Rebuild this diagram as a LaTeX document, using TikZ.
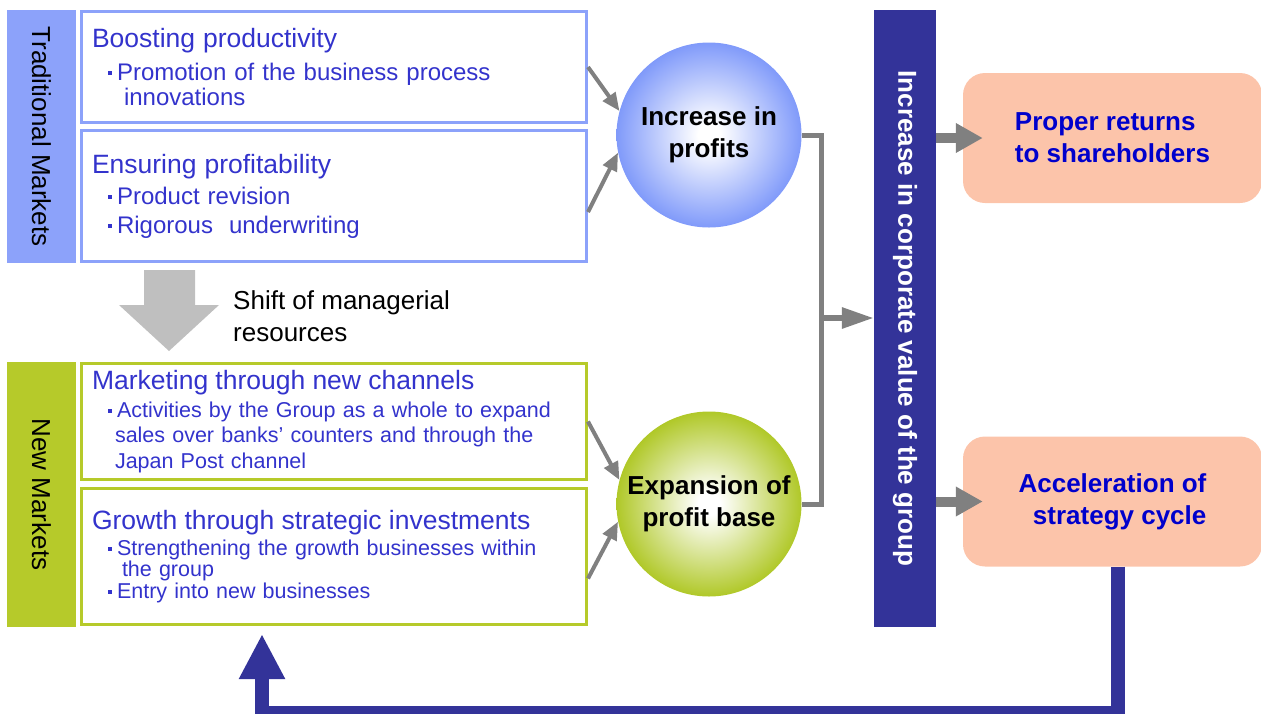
\documentclass[tikz,border=0pt]{standalone}
\usepackage{fontspec}
\setmainfont{Liberation Sans}
\usetikzlibrary{arrows.meta}
\definecolor{tmblue}{RGB}{140,162,250}
\definecolor{ballblue}{RGB}{128,154,250}
\definecolor{nmgreen}{RGB}{182,202,42}
\definecolor{ballgreen}{RGB}{176,200,40}
\definecolor{txtblue}{RGB}{51,51,204}
\definecolor{barblue}{RGB}{51,51,153}
\definecolor{peach}{RGB}{252,196,170}
\definecolor{retblue}{RGB}{0,0,204}
\definecolor{arrgray}{RGB}{128,128,128}
\definecolor{shiftgray}{RGB}{191,191,191}
\pgfdeclareradialshading{profitball}{\pgfpoint{0bp}{0bp}}{color(0bp)=(white); color(3bp)=(white); color(25bp)=(ballblue); color(50bp)=(ballblue)}
\pgfdeclareradialshading{baseball}{\pgfpoint{0bp}{0bp}}{color(0bp)=(white); color(3bp)=(white); color(25bp)=(ballgreen); color(50bp)=(ballgreen)}
\newcommand{\ttl}{\fontsize{26.5}{30}\selectfont}
\newcommand{\sqb}{\rule[0.22em]{4pt}{4pt}\hspace{5pt}}
\begin{document}
\begin{tikzpicture}[x=1pt,y=-1pt,
    mkt/.style={rotate=-90, minimum height=69pt, inner sep=0pt, font=\fontsize{26}{30}\selectfont},
    itembox/.style={draw, line width=3pt, text width=484pt, inner xsep=10.5pt, inner ysep=0pt, align=left, text=txtblue},
    tmbox/.style={itembox, draw=tmblue},
    nmbox/.style={itembox, draw=nmgreen},
    ball/.style={circle, minimum size=185pt, inner sep=0pt, align=center, font=\bfseries\fontsize{26}{32}\selectfont},
    valuebar/.style={rotate=-90, fill=barblue, text=white, minimum width=617pt, minimum height=62pt, font=\bfseries\fontsize{26}{30}\selectfont},
    ret/.style={fill=peach, rounded corners=22pt, minimum width=299pt, minimum height=130pt, text=retblue, font=\bfseries\fontsize{26}{32}\selectfont},
    garrow/.style={draw=arrgray, line width=4pt, -{Triangle[length=18pt,width=15pt]}}]
  \useasboundingbox (0,0) rectangle (1261,713);
  \node[mkt, fill=tmblue, minimum width=253pt] (trad) at (41.5,136.5) {Traditional Markets};
  \node[mkt, fill=nmgreen, minimum width=265pt] (newm) at (41.5,494.5) {New Markets};
  \node[tmbox, minimum height=111pt, font=\fontsize{24}{25}\selectfont] (prod) at (334,67) {{\ttl Boosting productivity}\\[8pt]
    \hspace*{16pt}\sqb Promotion of the business process\\
    \hspace*{32pt}innovations};
  \node[tmbox, minimum height=131pt, font=\fontsize{24}{25}\selectfont] (prof) at (334,196) {{\ttl Ensuring profitability}\\[6pt]
    \hspace*{16pt}\sqb Product revision\\[4pt]
    \hspace*{16pt}\sqb Rigorous\ \ underwriting};
  \node[nmbox, minimum height=116pt, font=\fontsize{21.5}{25.5}\selectfont] (chan) at (334,421.5) {{\ttl Marketing through new channels}\\[2.5pt]
    \hspace*{16pt}\sqb Activities by the Group as a whole to expand\\
    \hspace*{23pt}sales over banks' counters and through the\\
    \hspace*{23pt}Japan Post channel};
  \node[nmbox, minimum height=136pt, font=\fontsize{21.5}{21.5}\selectfont] (invest) at (334,556.5) {{\ttl Growth through strategic investments}\\[4.5pt]
    \hspace*{16pt}\sqb Strengthening the growth businesses within\\
    \hspace*{30pt}the group\\
    \hspace*{16pt}\sqb Entry into new businesses};
  \fill[shiftgray] (144,270) -- (195,270) -- (195,305) -- (219,305) -- (169,351) -- (119,305) -- (144,305) -- cycle;
  \node[anchor=west, align=left, inner sep=0pt, font=\fontsize{26}{32}\selectfont] (shift) at (233,316) {Shift of managerial\\resources};
  \node[ball, shading=profitball] (incr) at (709,135) {Increase in\\profits};
  \node[ball, shading=baseball] (expan) at (709,504) {Expansion of\\profit base};
  \node[valuebar] (value) at (905,318.5) {Increase in corporate value of the group};
  \node[ret, align=left] (returns) at (1112.5,138) {Proper returns\\to shareholders};
  \node[ret, align=right] (cycle) at (1112.5,501.5) {Acceleration of\\strategy cycle};
  \draw[garrow] (prod.east) -- (incr.165);
  \draw[garrow] ([yshift=-16pt]prof.east) -- (incr.191);
  \draw[garrow] (chan.east) -- (expan.165);
  \draw[garrow] ([yshift=-22pt]invest.east) -- (expan.191);
  \coordinate (jn) at (821,318);
  \draw[arrgray, line width=5pt] (incr.east) -| (jn) |- (expan.east);
  \draw[arrgray, line width=6pt, -{Triangle[length=32pt,width=20pt]}] (jn) -- (jn -| value.south);
  \draw[arrgray, line width=10pt, -{Triangle[length=27pt,width=28pt]}] (value.north |- returns.west) -- ([xshift=20pt]returns.west);
  \draw[arrgray, line width=10pt, -{Triangle[length=27pt,width=28pt]}] (value.north |- cycle.west) -- ([xshift=20pt]cycle.west);
  \coordinate (loopend) at (262,634);
  \draw[barblue, line width=14pt, -{Triangle[length=45pt,width=43pt]}] ([xshift=5.5pt]cycle.south) |- (loopend |- 0,713) -- (loopend);
\end{tikzpicture}
\end{document}
